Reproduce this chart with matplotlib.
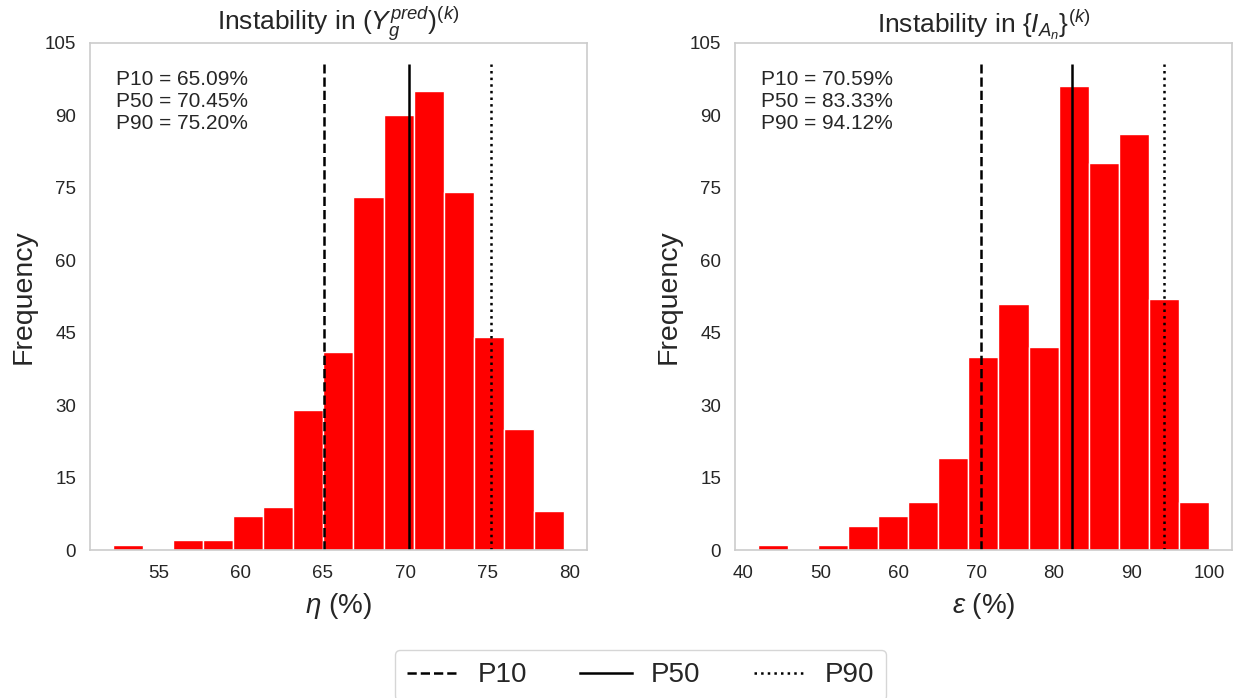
import numpy as np
import matplotlib
matplotlib.use("Agg")
import matplotlib.pyplot as plt
from matplotlib.lines import Line2D

plt.rcParams['font.family'] = ['Liberation Sans', 'DejaVu Sans']
plt.rcParams['mathtext.fontset'] = 'custom'
plt.rcParams['mathtext.rm'] = 'Liberation Sans'
plt.rcParams['mathtext.it'] = 'Liberation Sans:italic'
plt.rcParams['mathtext.bf'] = 'Liberation Sans:bold'

# histogram counts (15 bins each)
eta_counts = [1, 0, 2, 2, 7, 9, 29, 41, 73, 90, 95, 74, 44, 25, 8]
eta_first_edge = 52.22
eta_bin_width = 1.829

eps_counts = [1, 0, 1, 5, 7, 10, 19, 40, 51, 42, 96, 80, 86, 52, 10]
eps_first_edge = 41.85
eps_bin_width = 3.877

# percentile values shown in the text boxes
eta_pct = [65.09, 70.45, 75.20]
eps_pct = [70.59, 83.33, 94.12]
# where the vertical lines are actually drawn
eta_lines = [65.09, 70.2, 75.20]
eps_lines = [70.59, 82.4, 94.12]

titles = [r'Instability in $(Y_g^{pred})^{(k)}$', r'Instability in $\{I_{A_n}\}^{(k)}$']
xlabels = [r'$\eta$ (%)', r'$\varepsilon$ (%)']
pct_names = ['P10', 'P50', 'P90']
line_styles = ['--', '-', ':']

TEXT = '#262626'
SPINE = '#cccccc'


def draw_hist(ax, counts, first_edge, width, lines, pct, title, xlabel):
    n = len(counts)
    edges = first_edge + width * np.arange(n)
    ax.bar(edges, counts, width=width, align='edge', color='#ff0000',
           edgecolor='white', linewidth=1.0)
    for x, ls in zip(lines, line_styles):
        ax.vlines(x, 0, 100.5, colors='black', linestyles=ls, linewidth=1.8)
    ax.set_ylim(0, 105)
    ax.set_yticks(np.arange(0, 106, 15))
    ax.set_title(title, fontsize=19, color=TEXT, pad=7)
    ax.set_xlabel(xlabel, fontsize=20, color=TEXT, labelpad=6)
    ax.set_ylabel('Frequency', fontsize=20.5, color=TEXT, labelpad=6)
    txt = '\n'.join(f'{name} = {v:.2f}%' for name, v in zip(pct_names, pct))
    ax.text(0.052, 0.945, txt, transform=ax.transAxes, fontsize=15,
            color=TEXT, va='top', ha='left', linespacing=1.2)
    ax.tick_params(axis='x', length=0, pad=11, labelsize=13.5, labelcolor=TEXT)
    ax.tick_params(axis='y', length=0, pad=10, labelsize=13.5, labelcolor=TEXT)
    for sp in ax.spines.values():
        sp.set_color(SPINE)
        sp.set_linewidth(1.2)


def main():
    fig = plt.figure(figsize=(12.39, 6.98), dpi=100)
    ax1 = fig.add_axes([0.0726, 0.212, 0.401, 0.727])
    ax2 = fig.add_axes([0.5932, 0.212, 0.401, 0.727])

    draw_hist(ax1, eta_counts, eta_first_edge, eta_bin_width, eta_lines,
              eta_pct, titles[0], xlabels[0])
    draw_hist(ax2, eps_counts, eps_first_edge, eps_bin_width, eps_lines,
              eps_pct, titles[1], xlabels[1])

    handles = [Line2D([], [], color='black', linestyle=ls, linewidth=1.8)
               for ls in line_styles]
    fig.legend(handles, pct_names, loc='upper center', ncol=3,
               bbox_to_anchor=(0.517, 0.069), borderaxespad=0, fontsize=20,
               frameon=True, edgecolor=SPINE, columnspacing=1.9,
               handlelength=1.85, handletextpad=0.7, borderpad=0.45,
               labelcolor=TEXT)

    fig.savefig('out.png', dpi=100)


if __name__ == "__main__":
    main()
